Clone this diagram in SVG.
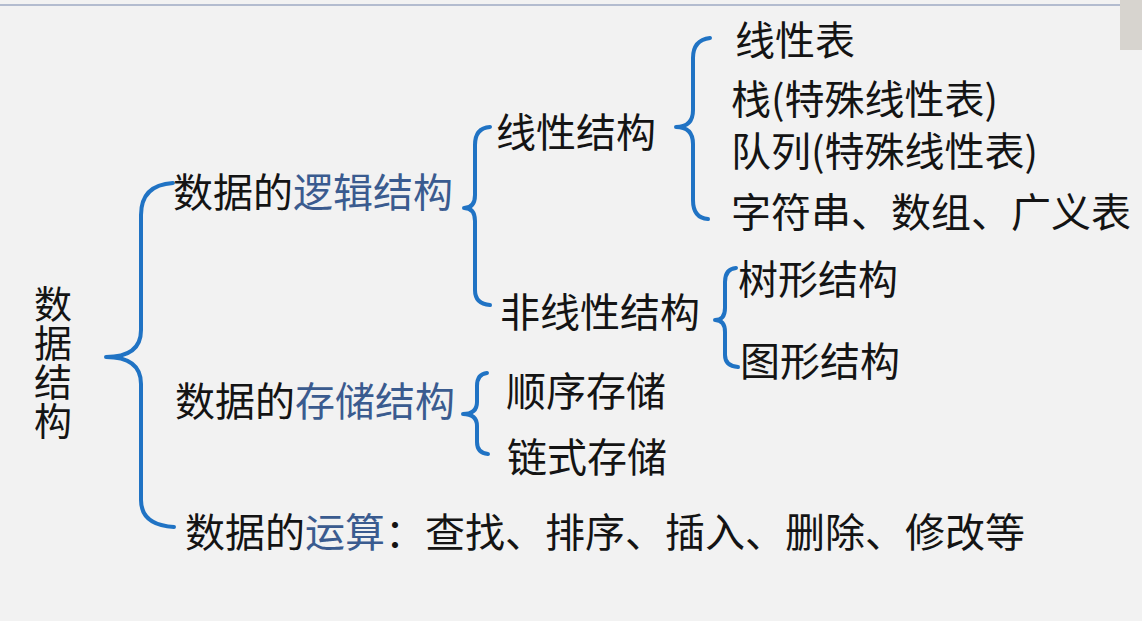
<svg xmlns="http://www.w3.org/2000/svg" width="1142" height="621" viewBox="0 0 1142 621">
<style>
text{font-family:"Noto Sans CJK SC","Noto Sans",sans-serif;font-size:40px;fill:#141414}
.b{fill:#3a5b8f}
.brace{fill:none;stroke:#2073c4;stroke-width:4;stroke-linecap:round;stroke-linejoin:round}
</style>
<rect x="0" y="0" width="1142" height="621" fill="#f2f2f2"/>
<line x1="0" y1="5" x2="1120" y2="5" stroke="#b3bccf" stroke-width="2"/>
<rect x="1120" y="0" width="22" height="50" fill="#d7d4cf"/>
<g id="connectors">
<path class="brace" d="M173,183 Q141,185 141,215 L141,330 Q141,357 106,357 Q141,357 141,384 L141,500 Q141,525 174,527"/>
<path class="brace" d="M490,127 Q475,128 475,145 L475,195 Q475,208 464,208 Q475,208 475,221 L475,290 Q475,304 490,305"/>
<path class="brace" d="M710,38 Q693,40 693,58 L693,110 Q693,127 676,127 Q693,127 693,144 L693,200 Q693,218 708,219"/>
<path class="brace" d="M736,268 Q725,269 725,282 L725,308 Q725,320 715,320 Q725,320 725,332 L725,355 Q725,366 738,367"/>
<path class="brace" d="M487,373 Q477,374 477,386 L477,402 Q477,414 463,414 Q477,414 477,426 L477,442 Q477,453 488,454"/>
</g>
<g id="root">
<text x="53" y="285" writing-mode="vertical-rl" style="font-size:38px;letter-spacing:1px">数据结构</text>
</g>
<g id="logical"><text x="173" y="207">数据的<tspan class="b">逻辑结构</tspan></text></g>
<g id="storage"><text x="175" y="416">数据的<tspan class="b">存储结构</tspan></text></g>
<g id="ops"><text x="185" y="547">数据的<tspan class="b">运算</tspan>：查找、排序、插入、删除、修改等</text></g>
<g id="linear"><text x="496" y="147">线性结构</text></g>
<g id="nonlinear"><text x="500" y="327">非线性结构</text></g>
<g id="linear-list"><text x="735" y="55">线性表</text></g>
<g id="stack"><text x="731" y="114">栈(特殊线性表)</text></g>
<g id="queue"><text x="731" y="166">队列(特殊线性表)</text></g>
<g id="others"><text x="731" y="227">字符串、数组、广义表</text></g>
<g id="tree"><text x="738" y="294">树形结构</text></g>
<g id="graph"><text x="740" y="376">图形结构</text></g>
<g id="sequential"><text x="506" y="406">顺序存储</text></g>
<g id="linked"><text x="507" y="472">链式存储</text></g>
</svg>
